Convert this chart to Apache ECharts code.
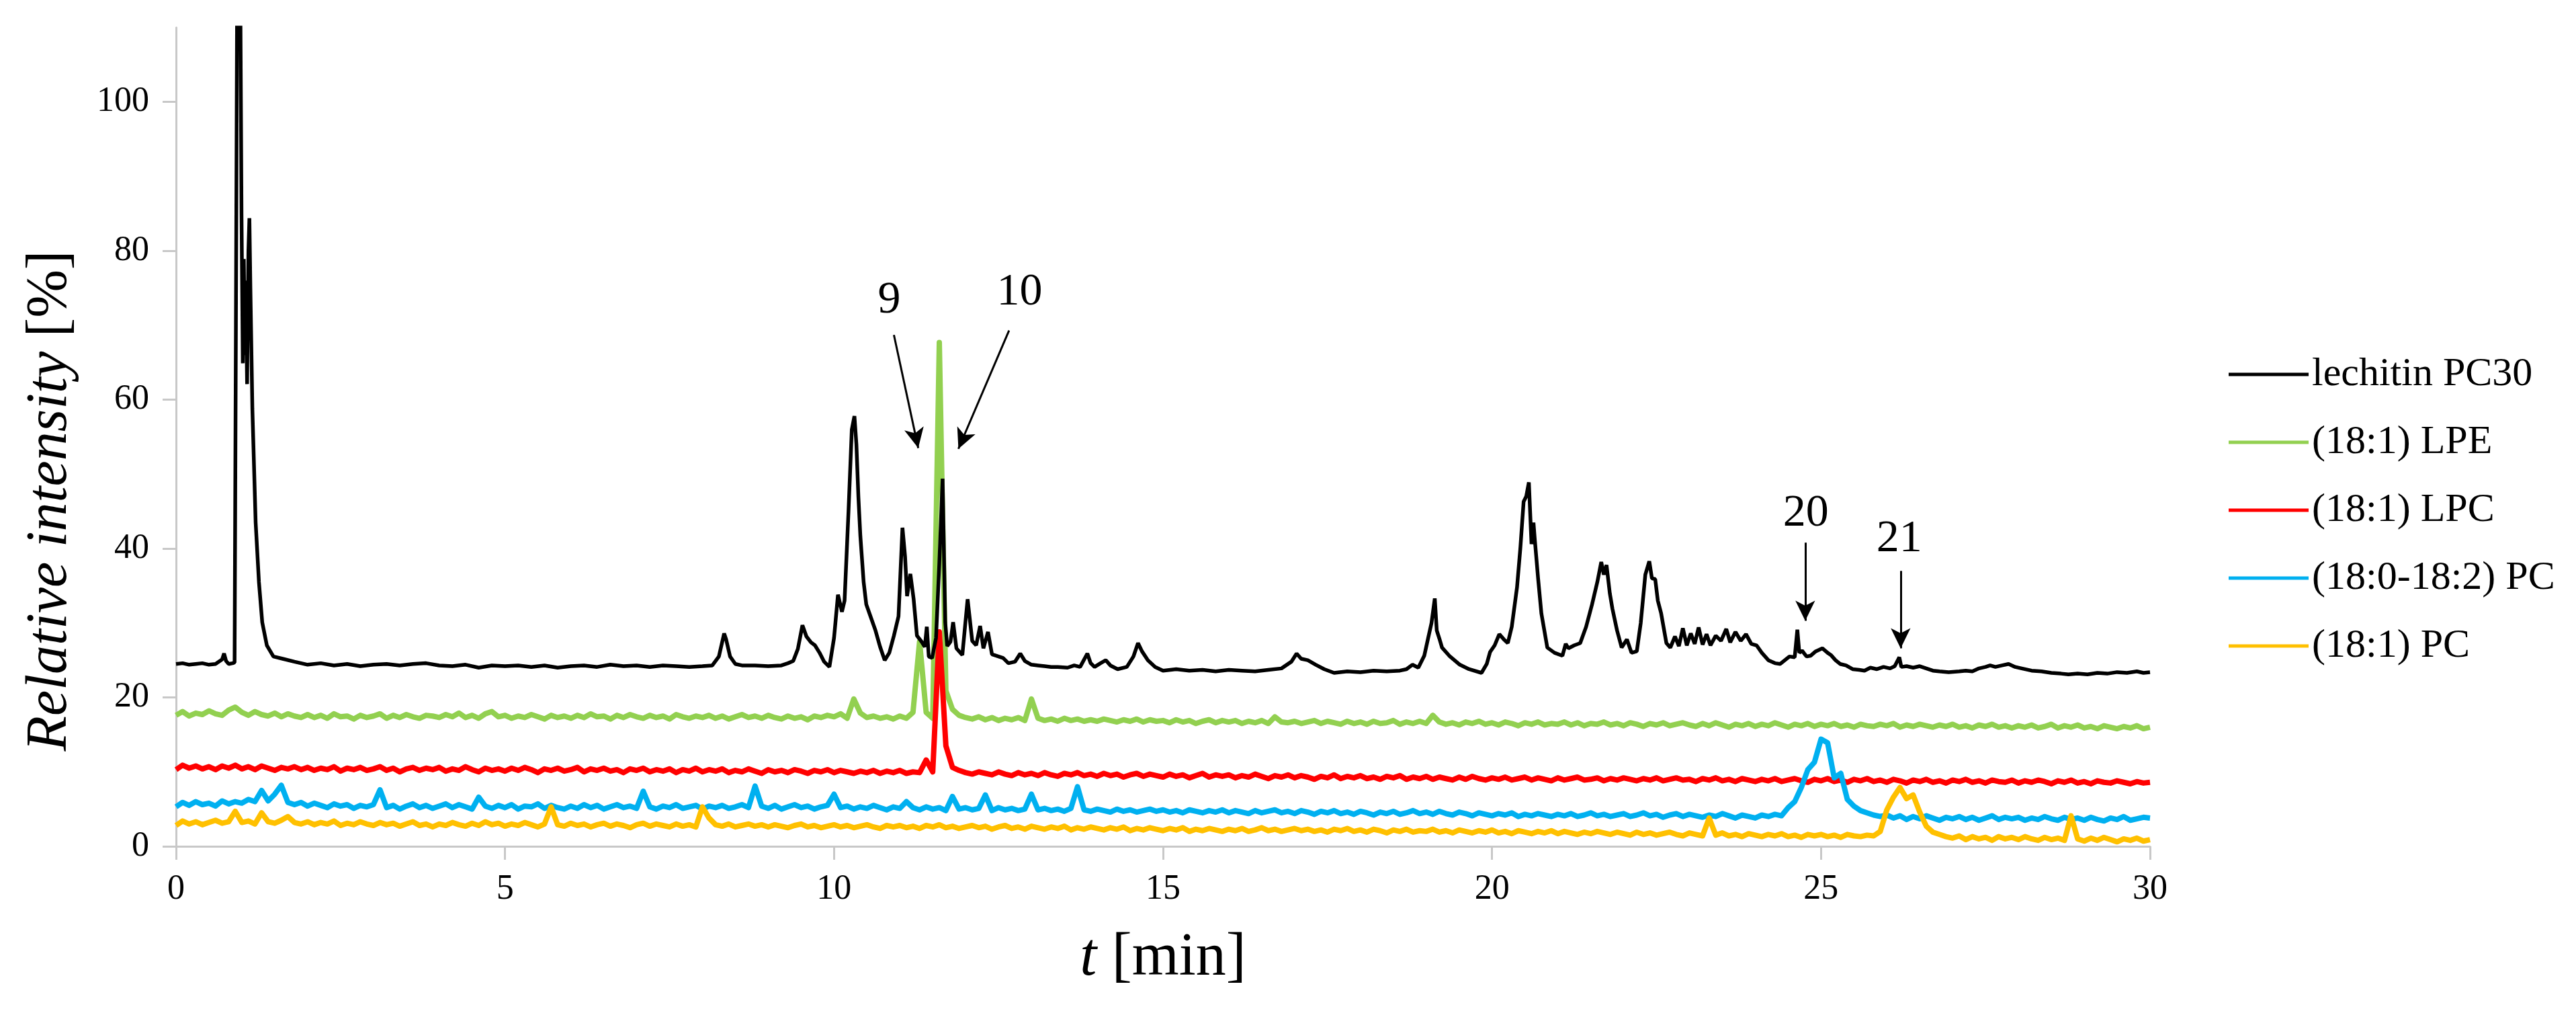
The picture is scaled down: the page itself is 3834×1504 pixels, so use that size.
<!DOCTYPE html>
<html>
<head>
<meta charset="utf-8">
<script src="https://cdn.jsdelivr.net/npm/echarts@6/dist/echarts.min.js"></script>
<style>
html,body{margin:0;padding:0;background:#fff;}
#chart{width:3834px;height:1504px;}
</style>
</head>
<body>
<div id="chart"></div>
<script>
// ---------- DATA ----------
const seriesNames = ['lechitin PC30', '(18:1) LPE', '(18:1) LPC', '(18:0-18:2) PC', '(18:1) PC'];
const seriesColors = ['#000000', '#92d050', '#ff0000', '#00b0f0', '#ffc000'];

// black trace: [time (min), relative intensity (%)]
const lechitin = [
[0.0,24.5],[0.1,24.6],[0.2,24.4],[0.3,24.5],[0.4,24.6],[0.5,24.4],[0.6,24.5],[0.7,25.1],[0.73,25.9],[0.76,24.9],[0.8,24.5],[0.86,24.6],
[0.89,24.7],[0.91,70],[0.93,118],[0.975,118],[0.995,85],[1.015,64.9],[1.03,78.9],[1.045,66],[1.06,76],[1.08,62.1],[1.1,80],[1.115,84.4],
[1.13,75],[1.16,58.8],[1.21,43.5],[1.26,35.5],[1.31,30.1],[1.38,27.0],[1.48,25.5],[1.62,25.2],[1.8,24.8],[2.0,24.4],
[2.2,24.6],[2.4,24.3],[2.6,24.5],[2.8,24.2],[3.0,24.4],[3.2,24.5],[3.4,24.3],[3.6,24.5],[3.8,24.6],[4.0,24.3],[4.2,24.2],[4.4,24.4],
[4.6,24.0],[4.8,24.3],[5.0,24.2],[5.2,24.3],[5.4,24.1],[5.6,24.3],[5.8,24.0],[6.0,24.2],[6.2,24.3],[6.4,24.1],[6.6,24.4],[6.8,24.2],
[7.0,24.3],[7.2,24.1],[7.4,24.3],[7.6,24.2],[7.8,24.1],[8.0,24.2],[8.15,24.3],[8.25,25.5],[8.33,28.6],[8.36,27.8],[8.42,25.5],[8.5,24.5],
[8.6,24.3],[8.8,24.3],[9.0,24.2],[9.2,24.3],[9.3,24.6],[9.38,24.9],[9.45,26.5],[9.52,29.7],[9.58,28.2],[9.65,27.4],[9.71,27.0],[9.78,26.0],
[9.85,24.8],[9.93,24.1],[10.0,28],[10.06,33.8],[10.12,31.5],[10.16,33],[10.22,45],[10.27,56],[10.31,57.8],[10.34,54],[10.37,47],[10.40,41.7],
[10.45,35.5],[10.49,32.5],[10.55,31],[10.63,29.0],[10.7,26.8],[10.77,25.0],[10.84,26.0],[10.91,28.3],[10.98,30.9],[11.04,42.8],[11.08,38.9],
[11.11,33.6],[11.16,36.6],[11.21,33.2],[11.26,28.3],[11.33,27.5],[11.38,26.8],[11.41,29.5],[11.44,25.5],[11.49,25.3],[11.55,28],[11.6,38],
[11.65,49.4],[11.69,30.1],[11.72,26.9],[11.77,27.5],[11.81,30.1],[11.86,26.6],[11.95,25.7],[12.03,33.2],[12.10,27.6],[12.16,27.0],[12.22,29.6],
[12.27,26.6],[12.34,28.8],[12.40,25.8],[12.47,25.6],[12.57,25.3],[12.65,24.6],[12.75,24.8],[12.83,25.9],[12.9,24.9],[13.0,24.4],[13.1,24.3],
[13.2,24.2],[13.3,24.1],[13.4,24.1],[13.55,24.0],[13.65,24.3],[13.74,24.1],[13.85,25.9],[13.9,24.6],[13.96,24.1],[14.05,24.6],[14.13,25.0],
[14.2,24.3],[14.31,23.8],[14.45,24.1],[14.55,25.5],[14.62,27.3],[14.68,26.2],[14.77,25.0],[14.88,24.1],[15.0,23.6],[15.2,23.8],[15.4,23.6],
[15.6,23.7],[15.8,23.5],[16.0,23.7],[16.2,23.6],[16.4,23.5],[16.6,23.7],[16.8,23.9],[16.95,24.8],[17.03,25.9],[17.1,25.2],[17.2,25.0],
[17.32,24.4],[17.45,23.8],[17.6,23.3],[17.8,23.5],[18.0,23.4],[18.2,23.6],[18.4,23.5],[18.6,23.6],[18.7,23.8],[18.79,24.4],[18.88,24.0],
[18.97,25.6],[19.03,28],[19.08,30],[19.13,33.3],[19.16,29],[19.2,27.9],[19.24,26.7],[19.35,25.6],[19.51,24.4],[19.65,23.8],[19.84,23.3],
[19.92,24.5],[19.97,26.1],[20.04,27.0],[20.11,28.5],[20.18,27.8],[20.24,27.3],[20.3,29.5],[20.38,34.8],[20.43,40],[20.48,46.3],[20.52,47],
[20.56,48.9],[20.6,40.6],[20.63,43.5],[20.65,41.2],[20.7,36],[20.75,31.3],[20.84,26.7],[20.95,26.0],[21.07,25.6],[21.12,27.2],[21.16,26.6],
[21.25,27.0],[21.34,27.3],[21.43,29.5],[21.52,32.5],[21.6,35.5],[21.66,38.2],[21.7,36.5],[21.74,37.8],[21.79,34.0],[21.83,31.9],[21.9,29.0],
[21.97,26.7],[22.05,27.8],[22.12,26.0],[22.2,26.2],[22.26,30],[22.33,36.5],[22.39,38.3],[22.43,36.0],[22.48,35.9],[22.52,33.0],[22.57,31.3],
[22.65,27.3],[22.71,26.7],[22.78,28.2],[22.84,26.9],[22.9,29.3],[22.96,27.0],[23.02,28.6],[23.08,27.2],[23.14,29.4],[23.2,27.1],[23.26,28.5],
[23.32,27.0],[23.4,28.3],[23.48,27.6],[23.56,29.2],[23.62,27.4],[23.7,28.8],[23.78,27.6],[23.86,28.5],[23.94,27.2],[24.02,27.0],[24.1,26.0],
[24.2,25.0],[24.3,24.6],[24.38,24.5],[24.45,25.0],[24.52,25.5],[24.6,25.4],[24.64,29.1],[24.67,26.0],[24.71,26.3],[24.78,25.5],[24.84,25.6],
[24.92,26.2],[25.02,26.6],[25.1,26.0],[25.15,25.7],[25.22,25.0],[25.29,24.5],[25.38,24.3],[25.48,23.8],[25.58,23.7],[25.66,23.6],[25.75,24.0],
[25.85,23.8],[25.95,24.1],[26.05,23.9],[26.12,24.2],[26.19,25.4],[26.22,24.1],[26.3,24.2],[26.4,24.0],[26.5,24.2],[26.6,23.9],[26.7,23.6],
[26.8,23.5],[26.94,23.4],[27.1,23.5],[27.2,23.6],[27.3,23.5],[27.4,23.9],[27.5,24.1],[27.57,24.3],[27.65,24.1],[27.75,24.3],[27.85,24.5],
[27.95,24.1],[28.05,23.9],[28.2,23.6],[28.35,23.5],[28.5,23.3],[28.65,23.2],[28.76,23.1],[28.9,23.2],[29.05,23.1],[29.2,23.3],[29.35,23.2],
[29.5,23.4],[29.65,23.3],[29.8,23.5],[29.9,23.3],[30.0,23.4]
];

// coloured traces: one value every 0.1 min from 0 to 30
const times = Array.from({length: 301}, (_, i) => Math.round(i) / 10);

const lpe = [
17.6,18.1,17.5,17.9,17.7,18.2,17.8,17.6,18.3,18.7,
18.0,17.6,18.1,17.7,17.5,17.9,17.4,17.8,17.5,17.3,
17.7,17.3,17.6,17.2,17.8,17.4,17.5,17.1,17.6,17.3,
17.5,17.8,17.2,17.6,17.3,17.7,17.4,17.2,17.6,17.5,
17.3,17.7,17.4,17.9,17.3,17.6,17.2,17.8,18.1,17.4,
17.6,17.2,17.5,17.3,17.7,17.4,17.1,17.6,17.3,17.5,
17.2,17.6,17.3,17.8,17.4,17.5,17.1,17.6,17.3,17.7,
17.4,17.2,17.6,17.3,17.5,17.1,17.7,17.4,17.2,17.5,
17.3,17.6,17.2,17.5,17.1,17.4,17.7,17.3,17.5,17.2,
17.6,17.3,17.1,17.5,17.2,17.4,17.0,17.5,17.3,17.6,
17.4,17.8,17.2,19.8,17.9,17.3,17.5,17.2,17.4,17.1,
17.5,17.2,18.0,27.5,18.0,17.2,67.7,20.9,18.4,17.6,
17.3,17.1,17.4,17.0,17.3,16.9,17.2,17.0,17.3,16.9,
19.8,17.2,16.9,17.1,16.8,17.2,16.9,17.1,16.8,17.0,
16.8,17.1,16.9,16.7,17.0,16.8,17.1,16.7,17.0,16.8,
16.9,16.6,17.0,16.7,16.9,16.5,16.8,17.0,16.6,16.9,
16.7,16.9,16.5,16.8,16.6,16.9,16.5,17.4,16.7,16.6,
16.8,16.5,16.7,16.9,16.5,16.8,16.6,16.4,16.8,16.5,
16.7,16.4,16.8,16.5,16.6,16.9,16.4,16.7,16.5,16.8,
16.5,17.6,16.7,16.4,16.6,16.3,16.7,16.5,16.8,16.4,
16.6,16.3,16.7,16.5,16.2,16.6,16.4,16.7,16.3,16.5,
16.4,16.7,16.3,16.6,16.2,16.5,16.4,16.7,16.3,16.5,
16.2,16.6,16.4,16.1,16.5,16.3,16.6,16.2,16.4,16.6,
16.3,16.1,16.5,16.2,16.6,16.3,16.0,16.4,16.2,16.5,
16.1,16.4,16.2,16.6,16.3,16.0,16.4,16.2,16.5,16.1,
16.4,16.2,16.5,16.1,16.3,16.0,16.4,16.2,16.1,16.4,
16.2,16.5,16.0,16.3,16.1,16.4,16.2,16.0,16.3,16.1,
16.4,16.0,16.2,15.9,16.3,16.1,16.4,16.0,16.2,15.9,
16.2,16.0,16.3,15.9,16.1,16.4,15.9,16.2,16.0,16.3,
15.9,16.1,15.8,16.2,16.0,15.8,16.1,15.9,16.2,15.8,
16.0
];

const lpc = [
10.3,10.9,10.5,10.8,10.4,10.7,10.3,10.8,10.5,10.9,
10.4,10.7,10.3,10.8,10.5,10.2,10.6,10.4,10.7,10.3,
10.6,10.2,10.5,10.3,10.7,10.1,10.5,10.3,10.6,10.2,
10.4,10.7,10.2,10.5,10.0,10.4,10.6,10.2,10.5,10.3,
10.6,10.1,10.4,10.2,10.7,10.3,10.0,10.5,10.2,10.4,
10.1,10.5,10.2,10.6,10.3,9.9,10.4,10.2,10.5,10.1,
10.3,10.6,10.0,10.4,10.2,10.5,10.1,10.3,9.9,10.4,
10.2,10.5,10.0,10.3,10.1,10.4,9.9,10.3,10.1,10.5,
10.0,10.3,10.1,10.4,9.9,10.2,10.0,10.4,10.1,9.8,
10.3,10.0,10.2,9.9,10.3,10.1,9.8,10.2,10.0,10.3,
9.9,10.2,10.0,9.8,10.1,9.9,10.2,9.8,10.1,9.9,
10.2,9.8,10.0,9.9,11.6,10.0,28.8,13.5,10.6,10.2,
9.9,9.7,10.0,9.8,9.6,10.0,9.7,9.5,9.9,9.6,
9.8,9.5,9.9,9.6,9.4,9.8,9.6,9.9,9.5,9.7,
9.4,9.8,9.5,9.7,9.3,9.6,9.8,9.4,9.7,9.5,
9.3,9.7,9.4,9.6,9.2,9.5,9.8,9.3,9.6,9.4,
9.6,9.2,9.5,9.3,9.7,9.4,9.1,9.5,9.3,9.6,
9.2,9.5,9.3,9.0,9.4,9.2,9.6,9.1,9.4,9.2,
9.5,9.1,9.3,9.0,9.4,9.2,9.5,9.0,9.3,9.1,
9.4,9.0,9.3,9.1,8.9,9.3,9.0,9.4,9.1,8.9,
9.2,9.0,9.3,8.9,9.1,9.3,8.9,9.2,9.0,8.8,
9.2,8.9,9.1,9.3,8.9,9.0,9.2,8.8,9.1,8.9,
9.2,9.0,8.8,9.1,8.9,9.2,8.8,9.0,9.2,8.9,
9.0,8.7,9.1,8.9,9.2,8.8,9.0,8.7,9.1,8.9,
8.7,9.0,8.8,9.1,8.7,8.9,9.1,8.8,8.6,9.0,
8.8,9.1,8.7,8.9,8.6,9.0,8.8,9.1,8.7,8.9,
8.6,9.0,8.8,8.5,8.9,8.7,9.0,8.6,8.8,8.5,
8.9,8.7,9.0,8.6,8.8,8.5,8.9,8.7,8.6,8.9,
8.5,8.8,8.6,8.9,8.7,8.4,8.8,8.6,8.9,8.5,
8.7,8.4,8.8,8.6,8.5,8.8,8.6,8.4,8.7,8.5,
8.6
];

const pc1802 = [
5.3,5.9,5.5,6.0,5.6,5.8,5.4,6.1,5.7,6.0,
5.8,6.3,6.0,7.5,6.1,7.0,8.2,5.9,5.6,5.9,
5.4,5.8,5.5,5.2,5.7,5.4,5.6,5.1,5.5,5.3,
5.6,7.6,5.2,5.5,5.0,5.4,5.7,5.2,5.5,5.1,
5.4,5.7,5.2,5.6,5.3,5.0,6.6,5.4,5.1,5.5,
5.2,5.6,5.0,5.4,5.3,5.7,5.1,5.5,5.2,5.0,
5.4,5.1,5.6,5.2,5.5,5.0,5.3,5.6,5.2,5.4,
5.1,7.4,5.3,5.0,5.4,5.2,5.6,5.1,5.3,5.5,
5.0,5.4,5.2,5.5,5.1,5.3,5.6,5.2,8.1,5.4,
5.1,5.5,5.0,5.3,5.6,5.2,5.4,5.0,5.3,5.5,
7.0,5.2,5.4,5.0,5.3,5.1,5.5,5.2,4.9,5.3,
5.1,6.0,5.2,4.9,5.3,5.0,5.2,4.8,6.7,5.0,
5.2,4.9,5.1,6.9,4.8,5.2,4.9,5.1,4.8,5.0,
7.0,4.9,5.1,4.8,5.0,4.7,5.1,8.0,4.9,4.7,
5.0,4.8,4.6,5.0,4.7,4.9,4.6,4.8,5.0,4.7,
4.9,4.6,4.8,4.5,4.9,4.7,4.5,4.8,4.6,4.9,
4.5,4.8,4.6,4.4,4.8,4.5,4.7,4.9,4.5,4.7,
4.4,4.8,4.6,4.3,4.7,4.5,4.8,4.4,4.6,4.3,
4.7,4.5,4.2,4.6,4.4,4.7,4.3,4.5,4.8,4.4,
4.6,4.3,4.7,4.4,4.2,4.6,4.4,4.1,4.5,4.3,
4.1,4.4,4.2,4.5,4.0,4.3,4.1,4.4,4.2,4.0,
4.3,4.1,4.4,4.0,4.2,4.5,4.1,4.3,4.0,4.2,
4.4,4.0,4.2,4.5,4.1,4.3,3.9,4.2,4.4,4.0,
4.3,4.1,3.9,4.2,4.0,4.4,4.1,3.8,4.2,4.0,
3.8,4.2,4.0,4.3,4.1,5.2,6.0,7.9,10.3,11.3,
14.4,13.9,9.2,9.8,6.3,5.4,4.8,4.5,4.2,4.0,
4.2,3.8,4.1,3.6,4.0,3.7,4.1,3.8,3.5,3.9,
3.7,4.0,3.6,3.9,3.5,3.8,4.1,3.6,3.9,3.7,
3.9,3.5,3.8,3.6,4.0,3.7,3.5,3.9,3.6,3.8,
3.5,3.9,3.6,3.4,3.8,3.6,4.0,3.5,3.7,3.9,
3.8
];

const pc181 = [
2.8,3.4,3.0,3.3,2.9,3.2,3.5,3.1,3.3,4.7,
3.2,3.4,3.0,4.5,3.3,3.1,3.5,4.0,3.2,3.0,
3.3,2.9,3.2,3.0,3.4,2.8,3.1,2.9,3.3,3.0,
2.8,3.2,2.9,3.1,2.7,3.0,3.3,2.8,3.0,2.6,
3.0,2.8,3.2,2.9,2.7,3.1,2.8,3.3,2.9,3.1,
2.7,3.0,2.8,3.2,2.9,2.6,3.0,5.3,2.9,2.7,
3.1,2.8,3.0,2.6,2.9,3.1,2.7,3.0,2.8,2.5,
2.9,3.1,2.7,3.0,2.8,2.6,3.0,2.7,2.9,2.6,
5.3,3.8,2.9,2.7,3.0,2.6,2.8,3.0,2.7,2.9,
2.6,2.9,2.7,2.5,2.8,3.0,2.6,2.8,2.5,2.7,
2.9,2.6,2.8,2.5,2.7,2.9,2.6,2.4,2.8,2.6,
2.8,2.5,2.7,2.4,2.8,2.6,2.9,2.5,2.7,2.4,
2.6,2.8,2.5,2.7,2.3,2.6,2.8,2.4,2.6,2.3,
2.7,2.5,2.3,2.6,2.4,2.7,2.2,2.5,2.3,2.6,
2.4,2.2,2.5,2.3,2.6,2.1,2.4,2.2,2.5,2.3,
2.1,2.4,2.2,2.5,2.0,2.3,2.1,2.4,2.2,2.0,
2.3,2.1,2.4,2.0,2.2,2.5,2.1,2.3,2.0,2.2,
2.4,2.1,2.3,2.0,2.2,1.9,2.3,2.1,2.4,2.0,
2.2,1.9,2.3,2.1,1.8,2.2,2.0,2.3,1.9,2.1,
2.0,2.3,1.9,2.1,1.8,2.2,2.0,1.8,2.1,1.9,
2.2,1.8,2.0,1.7,2.1,1.9,1.7,2.0,1.8,2.1,
1.7,2.0,1.8,1.6,1.9,1.7,2.0,1.8,1.6,1.9,
1.7,1.5,1.9,1.6,1.8,1.5,1.7,1.9,1.6,1.4,
1.8,1.6,1.4,3.8,1.5,1.8,1.4,1.6,1.3,1.7,
1.5,1.3,1.6,1.4,1.7,1.3,1.5,1.2,1.6,1.4,
1.6,1.3,1.5,1.2,1.6,1.4,1.3,1.5,1.4,2.0,
4.9,6.6,7.9,6.4,6.9,4.6,2.7,1.9,1.6,1.3,
1.1,1.4,0.9,1.3,1.0,1.2,0.8,1.3,1.0,1.2,
0.9,1.3,1.0,0.8,1.2,0.9,1.1,0.8,4.1,1.0,
0.7,1.1,0.8,1.2,0.9,0.6,1.0,0.8,1.1,0.7,
0.9
];

// axes
const xTicks = [0, 5, 10, 15, 20, 25, 30];
const yTicks = [0, 20, 40, 60, 80, 100];

// annotations (data coordinates)
const annotationTexts = ['9', '10', '20', '21'];
const annotationTextPos = [[10.84, 73.3], [12.82, 74.4], [24.77, 44.7], [26.19, 41.3]];
const arrowFrom = [[10.91, 68.7], [12.66, 69.3], [24.76, 40.8], [26.21, 37.0]];
const arrowTo = [[11.28, 53.5], [11.89, 53.4], [24.76, 30.3], [26.21, 26.6]];

// ---------- CHART ----------
const FONT = '"Liberation Serif", "Times New Roman", serif';
const chart = echarts.init(document.getElementById('chart'), null, {renderer: 'canvas'});

const colored = [lpe, lpc, pc1802, pc181];
const series = [];
series.push({
  name: seriesNames[0], type: 'line', data: lechitin, showSymbol: false, symbol: 'none',
  lineStyle: {color: seriesColors[0], width: 5.5}, itemStyle: {color: seriesColors[0]},
  sampling: null, animation: false, clip: true, z: 3,
  markLine: {
    silent: true, animation: false,
    symbol: ['none', 'arrow'], symbolSize: [22, 30],
    lineStyle: {color: '#000', width: 3, type: 'solid'},
    label: {show: false},
    data: arrowFrom.map((s, i) => [{coord: s}, {coord: arrowTo[i]}])
  },
  markPoint: {
    silent: true, animation: false,
    symbol: 'circle', symbolSize: 1,
    itemStyle: {color: 'rgba(0,0,0,0)'},
    label: {show: true, position: 'inside', formatter: p => p.name,
      fontFamily: FONT, fontSize: 68, color: '#000'},
    data: annotationTexts.map((t, i) => ({name: t, coord: annotationTextPos[i]}))
  }
});
colored.forEach((vals, k) => {
  series.push({
    name: seriesNames[k + 1], type: 'line',
    data: times.map((t, i) => [t, vals[i]]),
    showSymbol: false, symbol: 'none',
    lineStyle: {color: seriesColors[k + 1], width: 8, join: 'round'}, itemStyle: {color: seriesColors[k + 1]},
    animation: false, clip: true, z: 2
  });
});

const option = {
  animation: false,
  backgroundColor: '#ffffff',
  grid: {left: 262, top: 41, right: 634, bottom: 245, containLabel: false},
  legend: {
    data: seriesNames, orient: 'vertical', left: 3312, top: 522,
    icon: 'rect', itemWidth: 119, itemHeight: 5, itemGap: 41,
    selectedMode: false,
    textStyle: {fontFamily: FONT, fontSize: 60, color: '#000'}
  },
  xAxis: {
    type: 'value', min: 0, max: 30, interval: 5,
    name: '{i|t} [min]', nameLocation: 'middle', nameGap: 122,
    nameTextStyle: {fontFamily: FONT, fontSize: 90, color: '#000',
      rich: {i: {fontFamily: FONT, fontSize: 90, fontStyle: 'italic', color: '#000'}}},
    axisLine: {show: true, lineStyle: {color: '#c8c8c8', width: 3}},
    axisTick: {show: true, inside: false, length: 20, lineStyle: {color: '#c8c8c8', width: 3}},
    axisLabel: {fontFamily: FONT, fontSize: 52, color: '#000', margin: 38,
      customValues: xTicks},
    splitLine: {show: false}
  },
  yAxis: {
    type: 'value', min: 0, max: 110, interval: 20,
    axisLine: {show: true, lineStyle: {color: '#c8c8c8', width: 3}},
    axisTick: {show: true, inside: false, length: 20, lineStyle: {color: '#c8c8c8', width: 3},
      customValues: yTicks},
    axisLabel: {fontFamily: FONT, fontSize: 52, color: '#000', margin: 40,
      customValues: yTicks,
      formatter: v => (v % 20 === 0 ? String(v) : '')},
    splitLine: {show: false}
  },
  graphic: [{
    type: 'text', x: 75, y: 745, rotation: Math.PI / 2, silent: true,
    style: {
      text: '{i|Relative intensity} [%]',
      fontFamily: FONT, fontSize: 86, fill: '#000',
      align: 'center', verticalAlign: 'middle',
      rich: {i: {fontFamily: FONT, fontSize: 86, fontStyle: 'italic', fill: '#000'}}
    }
  }],
  series: series
};
chart.setOption(option);
</script>
</body>
</html>
